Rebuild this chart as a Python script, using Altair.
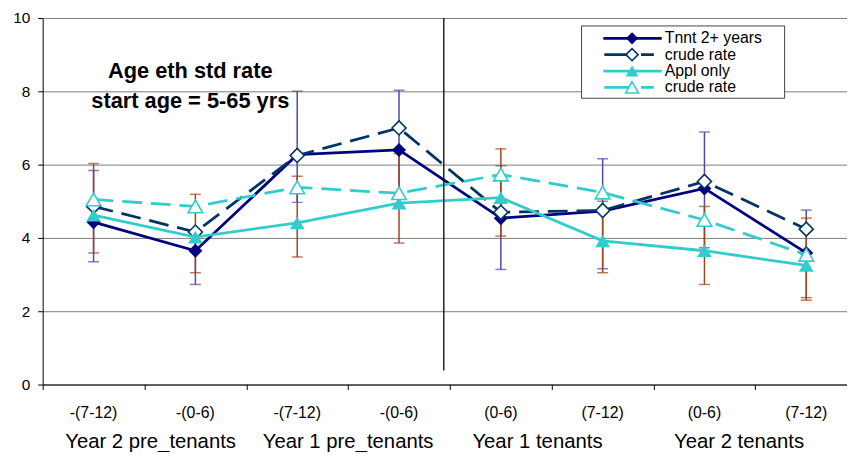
import altair as alt
import pandas as pd

# x categories (two-level labels)
periods = ["-(7-12)", "-(0-6)", "-(7-12)", "-(0-6)", "(0-6)", "(7-12)", "(0-6)", "(7-12)"]
groups = ["Year 2 pre_tenants", "Year 1 pre_tenants", "Year 1 tenants", "Year 2 tenants"]
# where the group labels sit on the category axis
group_pos = [1.06, 3.0, 4.86, 6.84]

# series values
tnnt_std = [4.43, 3.65, 6.27, 6.40, 4.54, 4.73, 5.35, 3.59]
tnnt_crude = [4.86, 4.16, 6.25, 7.00, 4.70, 4.75, 5.54, 4.24]
appl_std = [4.62, 4.02, 4.41, 4.95, 5.10, 3.92, 3.65, 3.25]
appl_crude = [5.05, 4.86, 5.38, 5.22, 5.73, 5.24, 4.49, 3.54]

# error bars
tnnt_lo = [3.35, 2.73, 4.97, 4.85, 3.14, 3.16, 3.73, 2.37]
tnnt_hi = [5.84, 4.10, 8.00, 8.03, 5.97, 6.16, 6.89, 4.76]
appl_lo = [3.59, 3.05, 3.48, 3.86, 4.05, 3.05, 2.73, 2.30]
appl_hi = [6.03, 5.19, 5.68, 6.30, 6.43, 5.00, 4.86, 4.54]

legend_labels = ["Tnnt 2+ years", "crude rate", "Appl only", "crude rate"]
note_lines = ["Age eth std rate", "start age = 5-65 yrs"]

FONT = "Liberation Sans"
divider_x = 3.94

pos = [i + 0.5 for i in range(len(periods))]

xs = alt.Scale(domain=[0, 7.9], nice=False, zero=False)
ys = alt.Scale(domain=[0, 10], nice=False)


def X():
    return alt.X("pos:Q", scale=xs, axis=alt.Axis(
        values=list(range(9)), labels=False, tickSize=5, tickColor="black",
        domainColor="black", grid=False, title=None))


def Y(field):
    return alt.Y(f"{field}:Q", scale=ys, axis=alt.Axis(
        values=[0, 2, 4, 6, 8, 10], grid=True, gridColor="#7a7a7a",
        domainColor="black", tickColor="black", tickSize=5, labelFontSize=15.5,
        labelPadding=8, labelColor="black", title=None))


err = pd.DataFrame({"pos": pos, "tlo": tnnt_lo, "thi": tnnt_hi,
                    "alo": appl_lo, "ahi": appl_hi})

layers = []
for lo, hi, col in [("tlo", "thi", "#4b4bae"), ("alo", "ahi", "#a3441c")]:
    base = alt.Chart(err)
    layers.append(base.mark_rule(color=col, strokeWidth=1.5).encode(
        x=X(), y=Y(lo), y2=f"{hi}:Q"))
    for f in (lo, hi):
        layers.append(base.mark_tick(color=col, orient="horizontal", size=11,
                                     thickness=1.5).encode(x=X(), y=Y(f)))

series = [
    (tnnt_std, "#000080", "diamond", True, None),
    (tnnt_crude, "#003366", "diamond", False, [20, 9]),
    (appl_std, "#33cccc", "triangle-up", True, None),
    (appl_crude, "#33cccc", "triangle-up", False, [20, 9]),
]

for vals, col, shape, filled, dash in series:
    df = pd.DataFrame({"pos": pos, "value": vals})
    line_kw = dict(color=col, strokeWidth=2.8)
    if dash:
        line_kw["strokeDash"] = dash
    layers.append(alt.Chart(df).mark_line(**line_kw).encode(x=X(), y=Y("value")))
    size = 200 if shape == "diamond" else 220
    if filled:
        pt = alt.Chart(df).mark_point(shape=shape, filled=True, color=col,
                                      size=size, opacity=1)
    else:
        pt = alt.Chart(df).mark_point(shape=shape, fill="white", fillOpacity=1,
                                      stroke=col, strokeWidth=1.6, size=size,
                                      opacity=1)
    layers.append(pt.encode(x=X(), y=Y("value")))

# divider between pre-tenant and tenant periods
layers.append(alt.Chart(pd.DataFrame({"pos": [divider_x]})).mark_rule(
    color="black", strokeWidth=1.3).encode(
    x=X(), y=alt.datum(10, scale=ys), y2=alt.datum(0.38)))

# two-level x labels
lab = pd.DataFrame({"pos": pos, "label": periods})
layers.append(alt.Chart(lab).mark_text(fontSize=16, baseline="alphabetic",
                                       color="black").encode(
    x=X(), y=alt.value(404), text="label:N"))
glab = pd.DataFrame({"pos": group_pos, "label": groups})
layers.append(alt.Chart(glab).mark_text(fontSize=20.5, baseline="alphabetic",
                                        color="black").encode(
    x=X(), y=alt.value(434), text="label:N"))

# annotation
for i, line in enumerate(note_lines):
    layers.append(alt.Chart(pd.DataFrame({"t": [line]})).mark_text(
        fontSize=22, fontWeight="bold", baseline="alphabetic", color="black").encode(
        x=alt.value(149), y=alt.value(61 + 30 * i), text="t:N"))

# legend box
layers.append(alt.Chart(pd.DataFrame({"a": [0]})).mark_rect(
    fill="white", stroke="#444444", strokeWidth=1).encode(
    x=alt.value(544), x2=alt.value(749), y=alt.value(8), y2=alt.value(81)))

legend_y = [20.5, 37, 53.5, 70]
for (vals, col, shape, filled, dash), name, ly in zip(series, legend_labels, legend_y):
    d = pd.DataFrame({"label": [name]})
    rule_kw = dict(color=col, strokeWidth=2.8)
    if dash:
        rule_kw["strokeDash"] = [25, 12]
        x1, x2 = 567, 617
    else:
        x1, x2 = 566, 625
    layers.append(alt.Chart(d).mark_rule(**rule_kw).encode(
        x=alt.value(x1), x2=alt.value(x2), y=alt.value(ly)))
    size = 150 if shape == "diamond" else 170
    if filled:
        pt = alt.Chart(d).mark_point(shape=shape, filled=True, color=col,
                                     size=size, opacity=1)
    else:
        pt = alt.Chart(d).mark_point(shape=shape, fill="white", fillOpacity=1,
                                     stroke=col, strokeWidth=1.6, size=size,
                                     opacity=1)
    layers.append(pt.encode(x=alt.value(595), y=alt.value(ly)))
    layers.append(alt.Chart(d).mark_text(fontSize=16, align="left",
                                         baseline="middle", color="black").encode(
        x=alt.value(628), y=alt.value(ly), text="label:N"))

chart = alt.layer(*layers).properties(
    width=812, height=370,
    padding={"left": 35, "top": 8, "right": 0, "bottom": 66},
    autosize=alt.AutoSizeParams(type="none"),
    background="white",
).configure(font=FONT).configure_view(stroke=None)

chart.save("out.html", embed_options={"renderer": "svg", "actions": False})
